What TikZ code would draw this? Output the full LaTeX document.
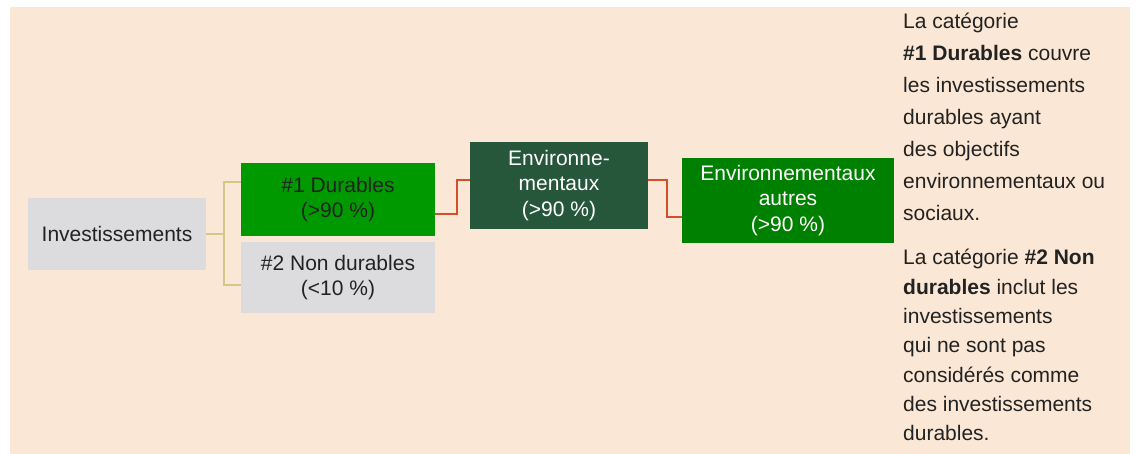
\documentclass[tikz,border=0pt]{standalone}
\usepackage{fontspec}
\setmainfont{Liberation Sans}
\definecolor{peach}{HTML}{FAE7D5}
\definecolor{boxgray}{HTML}{DCDCDE}
\definecolor{durgreen}{HTML}{009900}
\definecolor{envdark}{HTML}{27573B}
\definecolor{autgreen}{HTML}{008000}
\definecolor{khaki}{HTML}{D2C88A}
\definecolor{redline}{HTML}{D0502A}
\definecolor{txt}{HTML}{222222}
\begin{document}
\begin{tikzpicture}[x=1pt,y=-1pt,
  boxnode/.style={inner sep=0pt, align=center, text=txt,
    font=\fontsize{21}{25.5}\selectfont},
  graybox/.style={boxnode, fill=boxgray},
  khakiline/.style={draw=khaki, line width=2pt},
  redconn/.style={draw=redline, line width=2pt},
  sidetext/.style={anchor=base west, inner sep=0pt, text=txt,
    font=\fontsize{21}{25}\selectfont}]
\useasboundingbox (0,0) rectangle (1136,454);
\fill[peach] (10,7) rectangle (1130,454);
% boxes
\node[graybox, minimum width=178pt, minimum height=72pt] (inv) at (117,234) {Investissements};
\node[boxnode, fill=durgreen, minimum width=194pt, minimum height=73pt] (dur) at (338,199.5) {\#1 Durables\\(>90 \%)};
\node[graybox, minimum width=194pt, minimum height=71pt] (nd) at (338,277.5) {\#2 Non durables\\(<10 \%)};
\node[boxnode, fill=envdark, text=white, minimum width=178pt, minimum height=87pt] (env) at (559,185.5) {Environne-\\mentaux\\(>90 \%)};
\node[boxnode, fill=autgreen, text=white, minimum width=212pt, minimum height=85pt] (aut) at (788,200.5) {Environnementaux\\autres\\(>90 \%)};
% connectors
\draw[khakiline] (inv.east) -- ++(18,0) coordinate (j);
\draw[khakiline] (j) |- ([yshift=17.5pt]dur.west);
\draw[khakiline] (j) |- ([yshift=-7.5pt]nd.west);
\draw[redconn] ([yshift=-14.5pt]dur.east) -- ++(22,0) |- ([yshift=5.5pt]env.west);
\draw[redconn] ([yshift=5.5pt]env.east) -- ++(19,0) |- ([yshift=-16.5pt]aut.west);
% side text
\foreach \t [count=\i] in {{La catégorie},{\textbf{\#1 Durables} couvre},{les investissements},{durables ayant},{des objectifs},{environnementaux ou},{sociaux.}}
  \node[sidetext] (pa\i) at (903,{29+31.9*(\i-1)}) {\t};
\foreach \t [count=\i] in {{La catégorie \textbf{\#2 Non}},{\textbf{durables} inclut les},{investissements},{qui ne sont pas},{considérés comme},{des investissements},{durables.}}
  \node[sidetext] (pb\i) at (903,{265+29.3*(\i-1)}) {\t};
\end{tikzpicture}
\end{document}
